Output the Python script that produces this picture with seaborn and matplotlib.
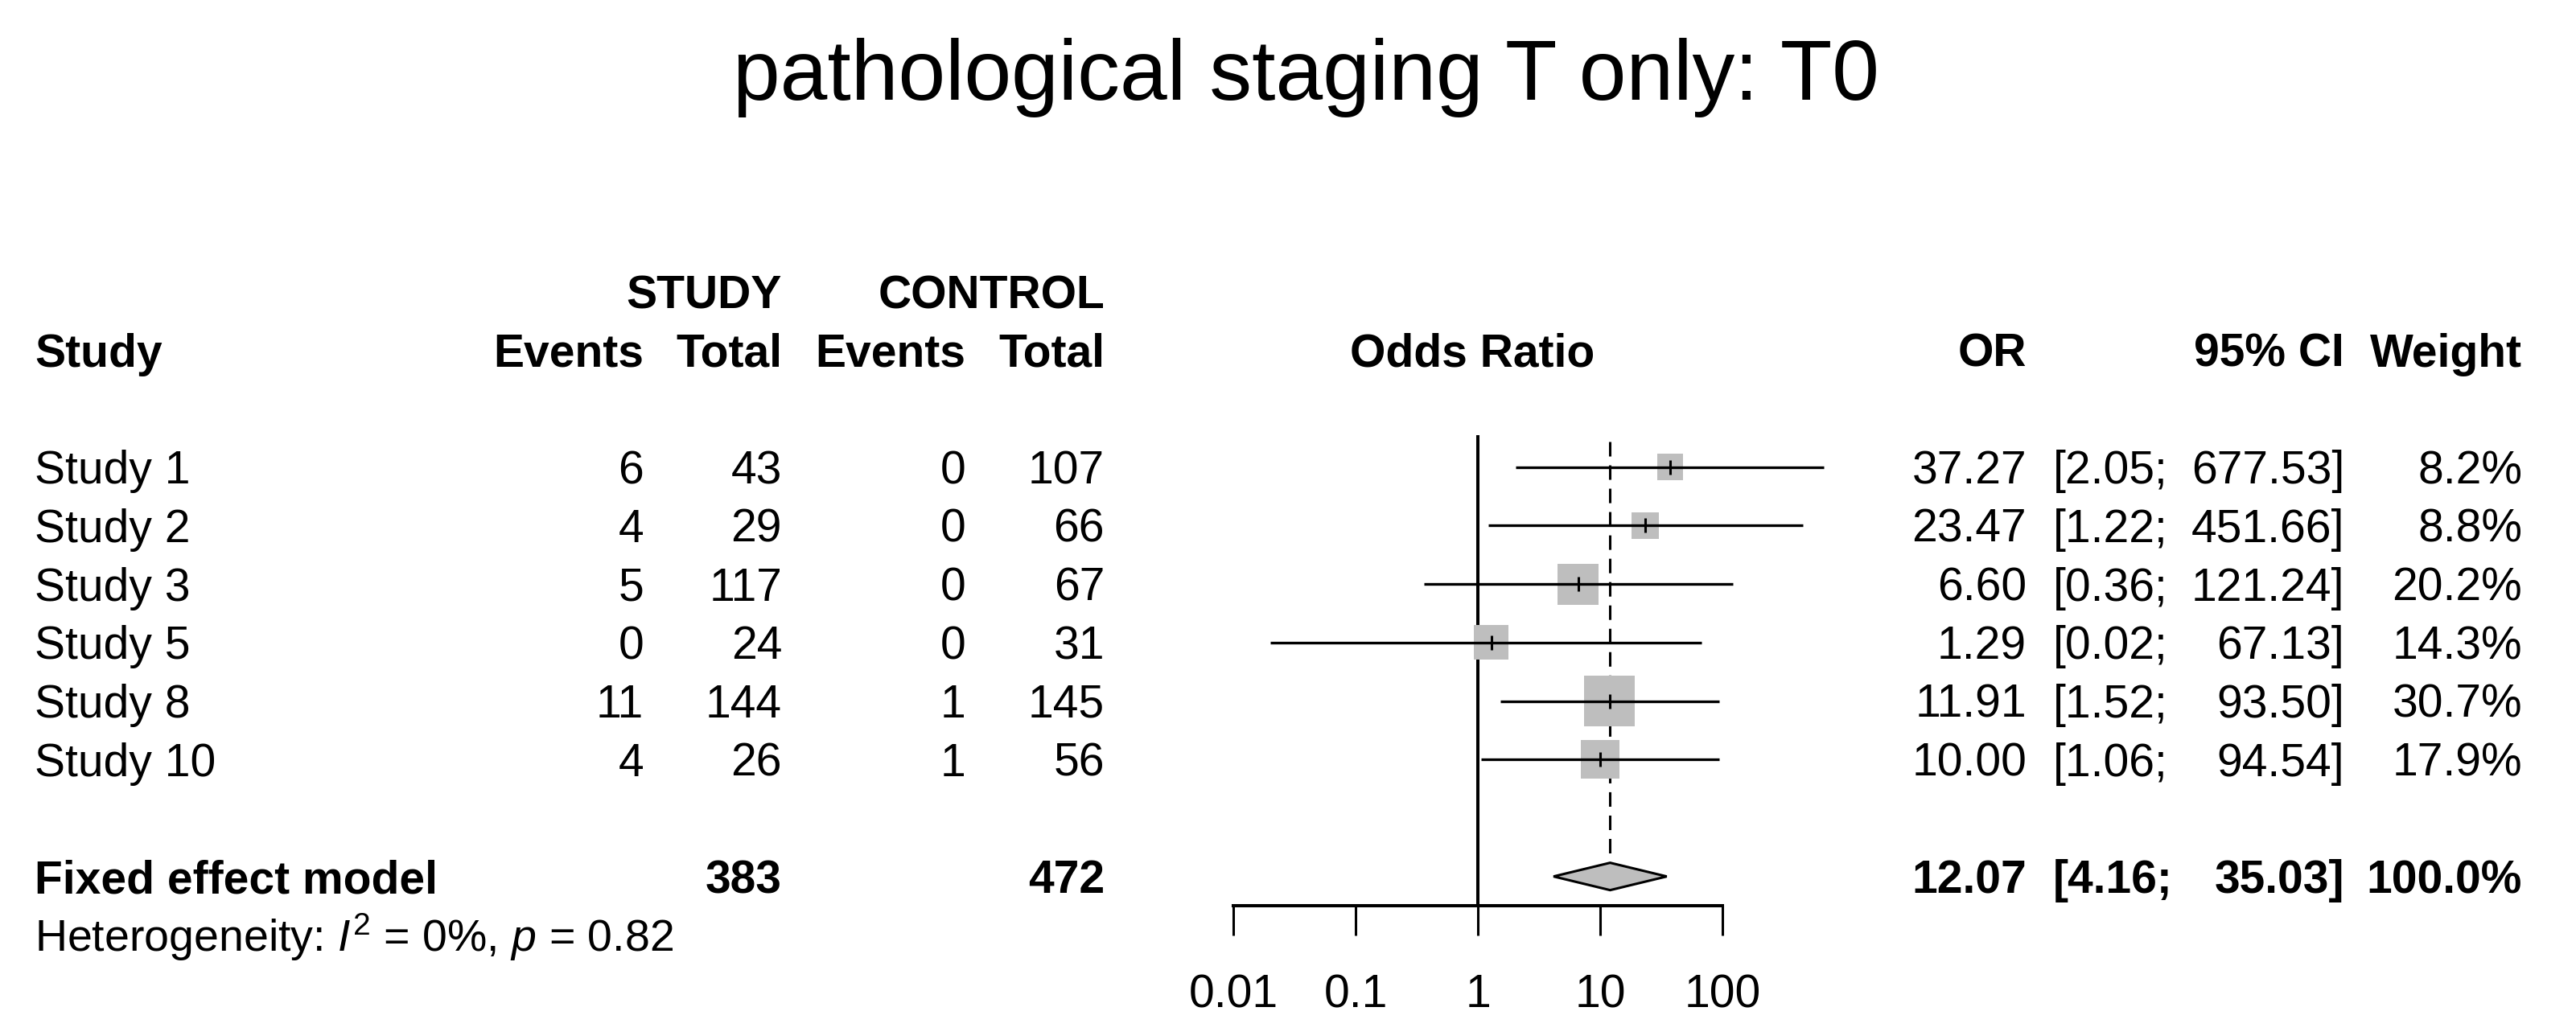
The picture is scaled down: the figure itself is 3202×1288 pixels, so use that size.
import numpy as np
import pandas as pd
import seaborn as sns
import matplotlib
matplotlib.use("Agg")
import matplotlib.pyplot as plt
import matplotlib.transforms as mtransforms
from matplotlib.ticker import FixedLocator, FixedFormatter, NullLocator

# ---------------- data ----------------
title = "pathological staging T only: T0"
studies = ["Study 1", "Study 2", "Study 3", "Study 5", "Study 8", "Study 10"]
events_study = [6, 4, 5, 0, 11, 4]
total_study = [43, 29, 117, 24, 144, 26]
events_control = [0, 0, 0, 0, 1, 1]
total_control = [107, 66, 67, 31, 145, 56]
odds_ratio = [37.27, 23.47, 6.60, 1.29, 11.91, 10.00]
ci_lower = [2.05, 1.22, 0.36, 0.02, 1.52, 1.06]
ci_upper = [677.53, 451.66, 121.24, 67.13, 93.50, 94.54]
weights = [8.2, 8.8, 20.2, 14.3, 30.7, 17.9]

pooled_label = "Fixed effect model"
pooled_total_study = 383
pooled_total_control = 472
pooled_or = 12.07
pooled_lower = 4.16
pooled_upper = 35.03
pooled_weight = 100.0
heterogeneity = r"Heterogeneity: $I^2$ = 0%, $p$ = 0.82"

tick_values = [0.01, 0.1, 1, 10, 100]
tick_labels = ["0.01", "0.1", "1", "10", "100"]

# ---------------- style ----------------
sns.set_theme(style="white")
plt.rcParams['font.family'] = ['Liberation Sans', 'DejaVu Sans']
plt.rcParams['mathtext.fontset'] = 'custom'
plt.rcParams['mathtext.rm'] = 'Liberation Sans'
plt.rcParams['mathtext.it'] = 'Liberation Sans:italic'
plt.rcParams['mathtext.bf'] = 'Liberation Sans:bold'

W, H = 3202, 1288
ROW_PX = 72.7
FS = 41
GRAY = "#BEBEBE"

fig = plt.figure(figsize=(W / 100, H / 100), dpi=100)
fig.patch.set_facecolor("white")
ax = fig.add_axes([1533 / W, (H - 1126) / H, 608 / W, 12 * ROW_PX / H])
ax.set_xscale("log")
ax.set_xlim(tick_values[0], tick_values[-1])
ax.set_ylim(8.5, -3.5)

df = pd.DataFrame({
    "study": studies, "ev_s": events_study, "tot_s": total_study,
    "ev_c": events_control, "tot_c": total_control,
    "or": odds_ratio, "lo": ci_lower, "hi": ci_upper, "w": weights,
})
df["row"] = np.arange(1, len(df) + 1)
fixed_row = len(df) + 2

# squares (area proportional to weight)
sns.scatterplot(data=df, x="or", y="row", marker="s", color=GRAY,
                edgecolor="none", linewidth=0, legend=False, ax=ax, zorder=2)
ax.collections[-1].set_sizes(67.3 * df["w"].to_numpy())
ax.collections[-1].set_clip_on(False)

# confidence intervals
ax.hlines(df["row"], df["lo"], df["hi"], color="black", lw=2.4, zorder=3, clip_on=False)
ax.plot(df["or"], df["row"], ls="none", marker="|", ms=13, mew=2.2, color="black",
        zorder=4, clip_on=False)

# reference lines
ax.vlines(1, 0.46, 8.5, color="black", lw=2.9, zorder=1, clip_on=False)
ax.vlines(pooled_or, 0.57, fixed_row - 0.26, color="black", lw=2.2,
          linestyle=(0, (5.9, 3.6)), zorder=1)

# diamond
h = 0.234
ax.fill([pooled_lower, pooled_or, pooled_upper, pooled_or],
        [fixed_row, fixed_row - h, fixed_row, fixed_row + h],
        facecolor=GRAY, edgecolor="black", lw=2.2, zorder=3, clip_on=False)

# axis styling
for s in ["left", "top", "right"]:
    ax.spines[s].set_visible(False)
ax.spines["bottom"].set_linewidth(2.9)
ax.spines["bottom"].set_color("black")
ax.set_yticks([])
ax.xaxis.set_major_locator(FixedLocator(tick_values))
ax.xaxis.set_major_formatter(FixedFormatter(tick_labels))
ax.xaxis.set_minor_locator(NullLocator())
ax.tick_params(axis="x", bottom=True, length=26.6, width=2.2, direction="out",
               pad=34, labelsize=FS, colors="black")
ax.set_xlabel("")
ax.set_ylabel("")
ax.patch.set_alpha(0)

# ---------------- text columns ----------------
tr = mtransforms.blended_transform_factory(fig.transFigure, ax.transData)
BASE = 0.28


def txt(xpx, row, s, ha="right", bold=False, size=FS):
    ax.text(xpx / W, row + BASE, s, transform=tr, ha=ha, va="baseline",
            fontsize=size, fontweight="bold" if bold else "normal",
            color="black", clip_on=False)


X_NAME, X_EVS, X_TOTS, X_EVC, X_TOTC = 43, 800, 972, 1200, 1373
X_ODDS, X_OR, X_CIL, X_CIR, X_W = 1830, 2519, 2552, 2914, 3135

# headers
txt(X_TOTS, -2, "STUDY", bold=True)
txt(X_TOTC, -2, "CONTROL", bold=True)
txt(X_NAME, -1, "Study", ha="left", bold=True)
txt(X_EVS, -1, "Events", bold=True)
txt(X_TOTS, -1, "Total", bold=True)
txt(X_EVC, -1, "Events", bold=True)
txt(X_TOTC, -1, "Total", bold=True)
txt(X_ODDS, -1, "Odds Ratio", ha="center", bold=True)
txt(X_OR, -1, "OR", bold=True)
txt(X_CIR, -1, "95% CI", bold=True)
txt(X_W, -1, "Weight", bold=True)

for _, r in df.iterrows():
    y = r["row"]
    txt(X_NAME, y, r["study"], ha="left")
    txt(X_EVS, y, f"{r['ev_s']}")
    txt(X_TOTS, y, f"{r['tot_s']}")
    txt(X_EVC, y, f"{r['ev_c']}")
    txt(X_TOTC, y, f"{r['tot_c']}")
    txt(X_OR, y, f"{r['or']:.2f}")
    txt(X_CIL, y, f"[{r['lo']:.2f};", ha="left")
    txt(X_CIR, y, f"{r['hi']:.2f}]")
    txt(X_W, y, f"{r['w']:.1f}%")

txt(X_NAME, fixed_row, pooled_label, ha="left", bold=True)
txt(X_TOTS, fixed_row, f"{pooled_total_study}", bold=True)
txt(X_TOTC, fixed_row, f"{pooled_total_control}", bold=True)
txt(X_OR, fixed_row, f"{pooled_or:.2f}", bold=True)
txt(X_CIL, fixed_row, f"[{pooled_lower:.2f};", ha="left", bold=True)
txt(X_CIR, fixed_row, f"{pooled_upper:.2f}]", bold=True)
txt(X_W, fixed_row, f"{pooled_weight:.1f}%", bold=True)
txt(X_NAME, fixed_row + 1.0, heterogeneity, ha="left", size=40)

fig.text(0.507, 1 - 96 / H, title, ha="center", va="center", fontsize=76, color="black")

fig.savefig("out.png", dpi=100, facecolor="white")
